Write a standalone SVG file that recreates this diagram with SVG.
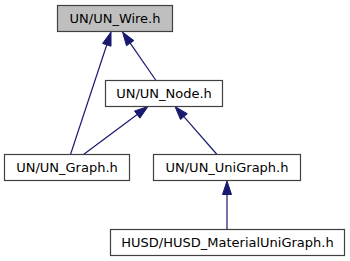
<svg xmlns="http://www.w3.org/2000/svg" width="350" height="261" viewBox="0 0 350 261">
<style>
.box{fill:#ffffff;stroke:#404040;stroke-width:1.2}
.cur{fill:#bfbfbf}
.lbl{font-family:"DejaVu Sans",sans-serif;font-size:13px;fill:#000000;text-anchor:middle}
.edge{stroke:#191970;stroke-width:1.2;fill:none}
.head{fill:#191970;stroke:#191970;stroke-width:1}
</style>
<rect width="350" height="261" fill="#ffffff"/>
<g id="connectors">
<g id="e_wire_graph"><line class="edge" x1="70.5" y1="154.5" x2="106.8" y2="44.8"/><polygon class="head" points="111,32 111,46.2 102.5,43.4"/></g>
<g id="e_wire_node"><line class="edge" x1="156" y1="80.5" x2="130.2" y2="43.1"/><polygon class="head" points="122.5,32 133.9,40.6 126.5,45.7"/></g>
<g id="e_node_graph"><line class="edge" x1="83.5" y1="154.5" x2="137.2" y2="114.6"/><polygon class="head" points="148,106.5 139.9,118.2 134.5,111"/></g>
<g id="e_node_unigraph"><line class="edge" x1="217" y1="154.5" x2="183.9" y2="116.7"/><polygon class="head" points="175,106.5 187.3,113.7 180.5,119.6"/></g>
<g id="e_unigraph_husd"><line class="edge" x1="227" y1="229.5" x2="227" y2="194.5"/><polygon class="head" points="227,181 231.5,194.5 222.5,194.5"/></g>
</g>
<g id="n_wire"><rect class="box cur" x="57.5" y="5.5" width="115" height="26"/><text class="lbl" x="115" y="22.5">UN/UN_Wire.h</text></g>
<g id="n_node"><rect class="box" x="105.5" y="80.5" width="117" height="26"/><text class="lbl" x="164" y="97.5">UN/UN_Node.h</text></g>
<g id="n_graph"><rect class="box" x="4.5" y="154.5" width="125" height="26"/><text class="lbl" x="67" y="171.5">UN/UN_Graph.h</text></g>
<g id="n_unigraph"><rect class="box" x="153.5" y="154.5" width="147" height="26"/><text class="lbl" x="227" y="171.5">UN/UN_UniGraph.h</text></g>
<g id="n_husd"><rect class="box" x="110.5" y="229.5" width="234" height="26"/><text class="lbl" x="227.5" y="246.5">HUSD/HUSD_MaterialUniGraph.h</text></g>
</svg>
